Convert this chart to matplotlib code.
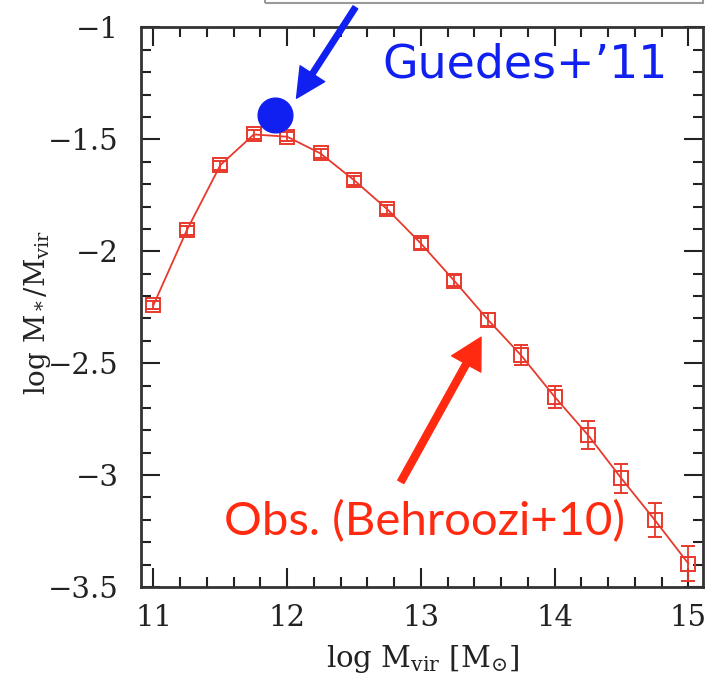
"""Stellar-to-halo mass ratio vs halo mass, with the Guedes+'11 point."""
import matplotlib
matplotlib.use("Agg")
import matplotlib.pyplot as plt
from matplotlib.ticker import MultipleLocator

# Behroozi+10 abundance-matching relation
log_mvir = [11.0, 11.25, 11.5, 11.75, 12.0, 12.25, 12.5, 12.75, 13.0,
            13.25, 13.5, 13.75, 14.0, 14.25, 14.5, 14.75, 15.0]
log_ratio = [-2.24, -1.905, -1.615, -1.478, -1.488, -1.563, -1.682, -1.813, -1.965,
             -2.132, -2.305, -2.465, -2.65, -2.821, -3.015, -3.201, -3.395]
ratio_err = [0.02, 0.02, 0.02, 0.02, 0.02, 0.02, 0.02, 0.02, 0.025,
             0.025, 0.03, 0.045, 0.048, 0.063, 0.063, 0.075, 0.08]

# Guedes+'11 simulated galaxy
guedes_mvir = [11.91]
guedes_ratio = [-1.39]

RED = "#e8392c"
BLUE = "#1020f0"

plt.rcParams["mathtext.fontset"] = "dejavuserif"
fig = plt.figure(figsize=(7.24, 6.84), dpi=100)
ax = fig.add_axes([0.1948, 0.1418, 0.7762, 0.818])

ax.errorbar(log_mvir, log_ratio, yerr=ratio_err, color=RED, lw=1.3,
            marker="s", ms=9.5, mfc="none", mec=RED, mew=1.4,
            elinewidth=1.3, capsize=5, capthick=1.3, zorder=3, clip_on=False)
ax.plot(guedes_mvir, guedes_ratio, "o", color=BLUE, ms=25, zorder=4)

ax.set_xlim(10.907, 15.11)
ax.set_ylim(-3.5, -1)
ax.xaxis.set_major_locator(MultipleLocator(1))
ax.xaxis.set_minor_locator(MultipleLocator(0.2))
ax.yaxis.set_major_locator(MultipleLocator(0.5))
ax.yaxis.set_minor_locator(MultipleLocator(0.1))
ax.set_yticks([-1, -1.5, -2, -2.5, -3, -3.5])
ax.set_yticklabels(["\u22121", "\u22121.5", "\u22122", "\u22122.5", "\u22123", "\u22123.5"])
ax.tick_params(which="both", direction="in", top=True, right=True, color="#222222",
               width=1.5, labelsize=21, labelcolor="#222222")
ax.tick_params(which="major", length=14, pad=12)
ax.tick_params(axis="y", which="major", pad=16)
ax.tick_params(which="minor", length=7)
for lab in ax.get_xticklabels() + ax.get_yticklabels():
    lab.set_family("DejaVu Serif")
for s in ax.spines.values():
    s.set_linewidth(2)
    s.set_color("#333333")

ax.set_xlabel(r"log M$_{\rm vir}$ [M$_{\odot}$]", family="DejaVu Serif", fontsize=21,
              color="#222222", labelpad=8)
ax.set_ylabel(r"log M$_*$/M$_{\rm vir}$", family="DejaVu Serif", fontsize=20,
              color="#222222", va="center")
ax.yaxis.set_label_coords(-0.185, 0.49)

# annotations
ax.annotate("", xy=(12.07, -1.316), xytext=(12.51, -0.91), annotation_clip=False,
            arrowprops=dict(color=BLUE, width=4, headwidth=21, headlength=21, shrink=0))
ax.text(13.78, -1.168, "Guedes+\u201911", color=BLUE, fontsize=33, family="DejaVu Sans",
        ha="center", va="center")
ax.annotate("", xy=(13.45, -2.384), xytext=(12.85, -3.03), annotation_clip=False,
            arrowprops=dict(color="#ff2a10", width=5, headwidth=24, headlength=22, shrink=0))
ax.text(13.03, -3.21, "Obs. (Behroozi+10)", color="#ff2a10", fontsize=34, family="Lato",
        ha="center", va="center")

# bottom edge of a box cut off at the top of the image
fig.patches.append(plt.Rectangle((265 / 724, 1 - 3 / 684), (703 - 265) / 724, 0.05,
                                 transform=fig.transFigure, fill=False, ec="#999999", lw=1.5))

fig.savefig("out.png", dpi=100)
